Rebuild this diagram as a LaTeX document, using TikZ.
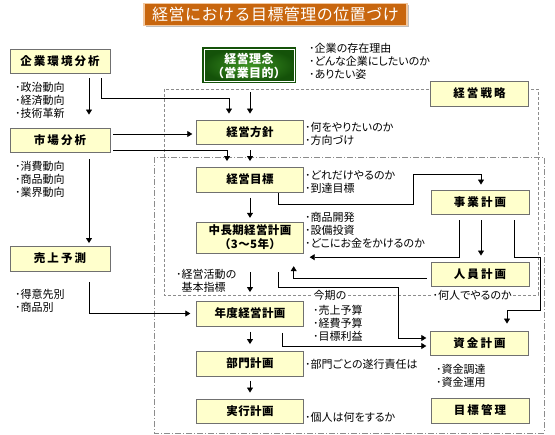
\documentclass[tikz,border=0pt]{standalone}
\usepackage{fontspec}
\usetikzlibrary{arrows.meta,shadows}
\newfontfamily\jp{Noto Sans CJK JP}[RawFeature=+palt]
\newfontfamily\jpbox{Noto Sans CJK JP}[LetterSpace=3]
\newfontfamily\jpwide{Noto Sans CJK JP}[LetterSpace=18]
\definecolor{boxyellow}{HTML}{FFFFCC}
\definecolor{boxline}{HTML}{707070}
\definecolor{titleorange}{HTML}{C8660E}
\definecolor{titleedge}{HTML}{F2C8A0}
\definecolor{rinenlight}{HTML}{3F9424}
\definecolor{rinendark}{HTML}{145209}
\definecolor{framegray}{HTML}{8C8C8C}

\begin{document}
\begin{tikzpicture}[x=1pt,y=-1pt,
  kbox/.style={draw=boxline,fill=boxyellow,minimum width=#1,minimum height=24.5,inner sep=0pt,font=\jpbox\bfseries\fontsize{11.5}{14}\selectfont},
  kbox/.default=107,
  sbox/.style={kbox=#1,font=\jpwide\bfseries\fontsize{11.5}{14}\selectfont},
  memo/.style={anchor=west,align=left,inner sep=0pt,font=\jp\fontsize{11}{13}\selectfont},
  arr/.style={-{Triangle[length=5pt,width=6pt]},line width=0.8pt},
  frameA/.style={draw=framegray,dash pattern=on 3pt off 2pt},
  frameB/.style={draw=framegray,dash pattern=on 6pt off 2pt on 1pt off 2pt}]
  \useasboundingbox (0,0) rectangle (555,435);
  \draw[frameA] (164,89) rectangle (538,295); \draw[frameB] (154,157) rectangle (544,433);
  \node[draw=titleedge,line width=1.5pt,fill=titleorange,minimum width=263,minimum height=22,text=white,font=\jpbox\fontsize{16}{18}\selectfont,drop shadow={shadow xshift=2pt,shadow yshift=-2pt,fill=black!25,opacity=1}] (title) at (275.5,14.5) {経営における目標管理の位置づけ};
  \node[draw=rinendark,line width=1pt,inner color=rinenlight,outer color=rinendark,minimum width=93,minimum height=35,inner sep=0pt,align=center,text=white,font=\jpbox\bfseries\fontsize{12}{14}\selectfont] (rinen) at (249,65.5) {経営理念\\（営業目的）};
  \draw[white,line width=0.8pt] ([shift={(2,2)}]rinen.north west) rectangle ([shift={(-2,-2)}]rinen.south east);
  \node[sbox=100] (kankyo) at (60,61) {企業環境分析}; \node[sbox=100] (shijo) at (60,140) {市場分析}; \node[sbox=100] (uriage) at (60,258.5) {売上予測};
  \node[kbox] (hoshin) at (250,132) {経営方針}; \node[kbox] (mokuhyo) at (250,179.5) {経営目標};
  \node[kbox,minimum height=31,align=center] (chuki) at (250,237.5) {中長期経営計画\\（3～5年）};
  \node[kbox] (nendo) at (250,313.5) {年度経営計画}; \node[kbox] (bumon) at (250,363.5) {部門計画}; \node[kbox] (jikko) at (250,411) {実行計画};
  \node[sbox=98] (senryaku) at (479.5,93.5) {経営戦略}; \node[sbox=98] (jigyo) at (480,202) {事業計画}; \node[sbox=98] (jinin) at (480,274) {人員計画};
  \node[sbox=98] (shikin) at (479.5,343) {資金計画}; \node[sbox=98] (kanri) at (480,410.5) {目標管理};
  \node[memo] (kankyomemo) at (15,100) {･政治動向\\･経済動向\\･技術革新}; \node[memo] (shijomemo) at (15,179) {･消費動向\\･商品動向\\･業界動向};
  \node[memo] (uriagememo) at (15,301) {･得意先別\\･商品別}; \node[memo] (rinenmemo) at (309,61) {･企業の存在理由\\･どんな企業にしたいのか\\･ありたい姿};
  \node[memo] (hoshinmemo) at (305,133.5) {･何をやりたいのか\\･方向づけ}; \node[memo] (mokuhyomemo) at (305,182) {･どれだけやるのか\\･到達目標};
  \node[memo] (chukimemo) at (305,230) {･商品開発\\･設備投資\\･どこにお金をかけるのか}; \node[memo] (shishin) at (176,281) {･経営活動の\\\hphantom{･}基本指標};
  \node[memo,fill=white,inner xsep=1.5pt] (konki) at (312,295.5) {今期の}; \node[memo] (yosan) at (313,323) {･売上予算\\･経費予算\\･目標利益};
  \node[memo,fill=white,inner xsep=1.5pt] (jininmemo) at (431,295.5) {･何人でやるのか}; \node[memo] (bumonmemo) at (305,364) {･部門ごとの遂行責任は};
  \node[memo] (shikinmemo) at (436,375.5) {･資金調達\\･資金運用}; \node[memo] (jikkomemo) at (305,417) {･個人は何をするか};
  \draw[arr] ([shift={(29,5)}]kankyo.south) -- ([shift={(29,-13)}]shijo.north);
  \draw[arr] ([shift={(41,5)}]kankyo.south) |- (229,98) -- ([shift={(-21,-6)}]hoshin.north);
  \draw[arr] ([shift={(1,9)}]rinen.south) -- ([shift={(0,-6)}]hoshin.north);
  \draw[arr] ([shift={(3,-6)}]shijo.east) -- ([shift={(-4,2)}]hoshin.west);
  \draw[arr] ([shift={(3,10)}]shijo.east) -| ([shift={(-23,-6)}]mokuhyo.north);
  \draw[arr] ([shift={(0,6)}]hoshin.south) -- ([shift={(0,-6)}]mokuhyo.north);
  \draw[arr] ([shift={(29,7)}]shijo.south) -- ([shift={(29,-3)}]uriage.north);
  \draw[arr] ([shift={(29,11)}]uriage.south) |- ([shift={(-6,0)}]nendo.west);
  \draw[arr] ([shift={(0,6)}]mokuhyo.south) -- ([shift={(0,-4)}]chuki.north);
  \draw[arr] ([shift={(28,1)}]mokuhyo.south) |- (413,204) |- (481,174) -- ([shift={(1,-5)}]jigyo.north);
  \draw[arr] ([shift={(-21,6)}]jigyo.south) |- ([shift={(6,4)}]chuki.south east);
  \draw[arr] ([shift={(1,6)}]jigyo.south) -- ([shift={(1,-6)}]jinin.north);
  \draw[arr] ([shift={(34,6)}]jigyo.south) |- (540,257) |- (507,310) -- ([shift={(27.5,-7)}]shikin.north);
  \draw[arr] ([shift={(-4,4)}]jinin.west) -| ([shift={(-10,13)}]chuki.south east);
  \draw[arr] ([shift={(28,19)}]chuki.south) |- (398,287) |- ([shift={(-4,-5)}]shikin.west);
  \draw[arr] ([shift={(32,7)}]nendo.south) |- ([shift={(-4,3)}]shikin.west);
  \draw[arr] ([shift={(0,19)}]chuki.south) -- ([shift={(0,-9)}]nendo.north);
  \draw[arr] ([shift={(0,6)}]nendo.south) -- ([shift={(0,-7)}]bumon.north);
  \draw[arr] ([shift={(0,5)}]bumon.south) -- ([shift={(0,-6)}]jikko.north);
\end{tikzpicture}
\end{document}
